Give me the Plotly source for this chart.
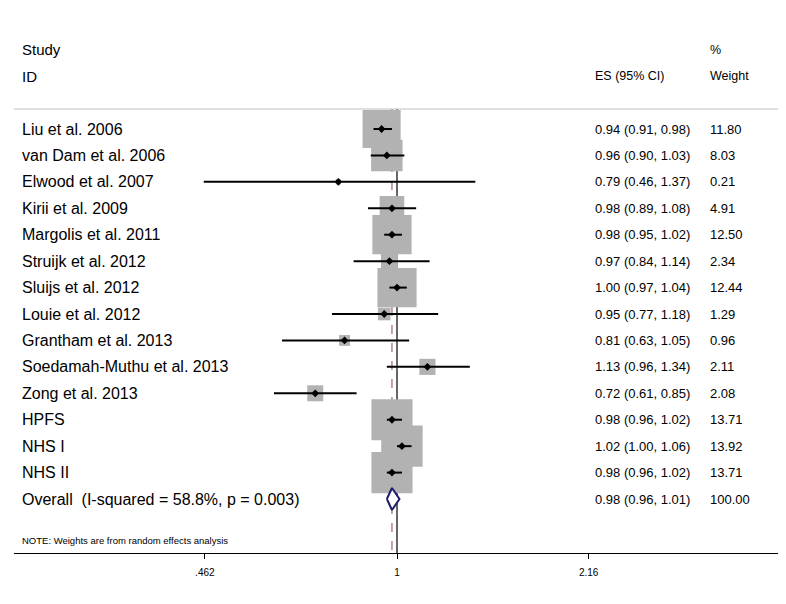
import numpy as np
import plotly.graph_objects as go

# study data
studies = ["Liu et al. 2006", "van Dam et al. 2006", "Elwood et al. 2007", "Kirii et al. 2009",
           "Margolis et al. 2011", "Struijk et al. 2012", "Sluijs et al. 2012", "Louie et al. 2012",
           "Grantham et al. 2013", "Soedamah-Muthu et al. 2013", "Zong et al. 2013",
           "HPFS", "NHS I", "NHS II"]
es = [0.94, 0.96, 0.79, 0.98, 0.98, 0.97, 1.00, 0.95, 0.81, 1.13, 0.72, 0.98, 1.02, 0.98]
lo = [0.91, 0.90, 0.46, 0.89, 0.95, 0.84, 0.97, 0.77, 0.63, 0.96, 0.61, 0.96, 1.00, 0.96]
hi = [0.98, 1.03, 1.37, 1.08, 1.02, 1.14, 1.04, 1.18, 1.05, 1.34, 0.85, 1.02, 1.06, 1.02]
weight = [11.80, 8.03, 0.21, 4.91, 12.50, 2.34, 12.44, 1.29, 0.96, 2.11, 2.08, 13.71, 13.92, 13.71]

overall_label = "Overall  (I-squared = 58.8%, p = 0.003)"
overall_es, overall_lo, overall_hi = 0.98, 0.96, 1.01
overall_weight = 100.00

tick_vals = [0.462, 1, 2.16]
tick_text = [".462", "1", "2.16"]

W, H = 786, 604
OFF = 8  # page body margin
FONT = "Liberation Sans, Arial, sans-serif"
row_px = 26.43
first_px = 129 - OFF

n = len(studies)
rows = np.arange(n)
overall_row = n


def px_x(p):
    return (p - OFF) / W


def px_row(p):
    return (p - OFF - first_px) / row_px


sep_row = px_row(109)
axis_row = px_row(553)

fig = go.Figure()

# null line and pooled estimate line, under the boxes
fig.add_trace(go.Scatter(x=[1, 1], y=[sep_row, axis_row], mode="lines",
                         line=dict(color="black", width=1.2), hoverinfo="skip"))
fig.add_trace(go.Scatter(x=[overall_es, overall_es], y=[sep_row, axis_row], mode="lines",
                         line=dict(color="#8a4a5e", width=1, dash="dash"), hoverinfo="skip"))

# grey weight boxes
fig.add_trace(go.Scatter(
    x=es, y=rows, mode="markers",
    marker=dict(symbol="square", size=[11.1 * np.sqrt(w) for w in weight],
                color="#b2b2b2", opacity=1, line=dict(width=0)),
    hoverinfo="skip"))

# confidence intervals
cx, cy = [], []
for i in range(n):
    cx += [lo[i], hi[i], None]
    cy += [i, i, None]
fig.add_trace(go.Scatter(x=cx, y=cy, mode="lines", line=dict(color="black", width=2),
                         hoverinfo="skip"))
fig.add_trace(go.Scatter(x=es, y=rows, mode="markers",
                         marker=dict(symbol="diamond", size=6, color="black"),
                         hoverinfo="skip"))

# overall diamond
h = 11 / row_px
fig.add_trace(go.Scatter(
    x=[overall_lo, overall_es, overall_hi, overall_es, overall_lo],
    y=[overall_row, overall_row - h, overall_row, overall_row + h, overall_row],
    mode="lines", fill="toself", fillcolor="white",
    line=dict(color="#1c1c6b", width=2), hoverinfo="skip"))

shapes = [
    dict(type="line", xref="paper", yref="y", x0=px_x(14), x1=1, y0=sep_row, y1=sep_row,
         line=dict(color="#c0c0c0", width=1)),
]

ann = []


def txt(x, y, s, size):
    ann.append(dict(x=px_x(x), y=y, xref="paper", yref="y", text=s, showarrow=False,
                    xanchor="left", yanchor="middle", xshift=-2,
                    font=dict(family=FONT, size=size, color="black")))


txt(22, -3, "Study", 15)
txt(22, -2, "ID", 15)
txt(595, -2, "ES (95% CI)", 12.5)
txt(710, -3, "%", 12.5)
txt(710, -2, "Weight", 12.5)

for i in range(n):
    txt(22, i, studies[i], 16)
    txt(595, i, f"{es[i]:.2f} ({lo[i]:.2f}, {hi[i]:.2f})", 13)
    txt(710, i, f"{weight[i]:.2f}", 13)

txt(22, overall_row, overall_label, 16)
txt(595, overall_row, f"{overall_es:.2f} ({overall_lo:.2f}, {overall_hi:.2f})", 13)
txt(710, overall_row, f"{overall_weight:.2f}", 13)
txt(22, px_row(540), "NOTE: Weights are from random effects analysis", 9.5)

x0 = (14 - 397) / 573
x1 = (W + OFF - 397) / 573

fig.update_layout(
    width=W, height=H,
    margin=dict(l=0, r=0, t=0, b=0),
    paper_bgcolor="white", plot_bgcolor="white",
    showlegend=False,
    shapes=shapes, annotations=ann,
    xaxis=dict(type="log", range=[x0, x1], domain=[px_x(14), 1],
               anchor="free", position=1 - (553 - OFF) / H,
               showline=True, linecolor="black", linewidth=1.2,
               ticks="outside", ticklen=5, tickcolor="black",
               tickvals=tick_vals, ticktext=tick_text,
               tickfont=dict(family=FONT, size=10, color="black"),
               ticklabelstandoff=5,
               showgrid=False, zeroline=False),
    yaxis=dict(range=[(H - first_px) / row_px, -first_px / row_px], visible=False,
               showgrid=False, zeroline=False),
)

fig.write_html("out.html")
